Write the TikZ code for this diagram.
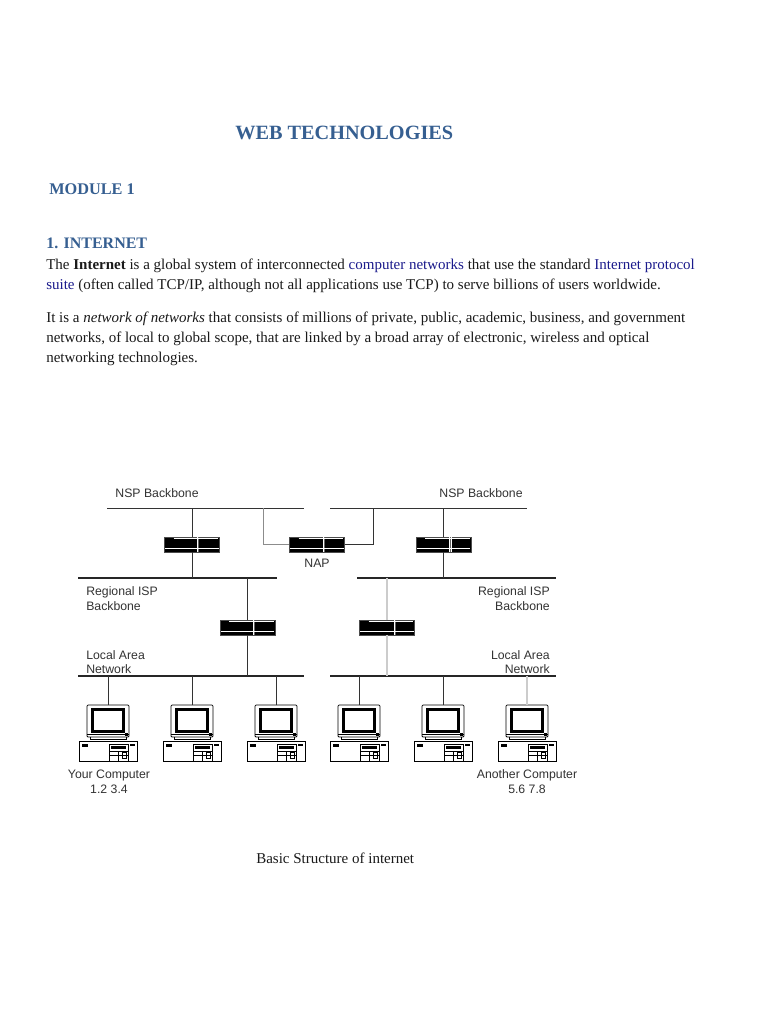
\documentclass[tikz,border=0pt]{standalone}
\usepackage{fontspec}
\setmainfont{Liberation Serif}
\newfontfamily\lblfont{Liberation Sans}
\definecolor{headblue}{HTML}{365F91}
\definecolor{linkblue}{HTML}{1A1A8C}
\definecolor{bodyink}{HTML}{1A1A1A}
\definecolor{lblink}{HTML}{333333}
\tikzset{
  bodytext/.style={inner sep=0pt,anchor=base west,text=bodyink,font=\fontsize{11.25}{13}\selectfont},
  headtext/.style={inner sep=0pt,anchor=base west,text=headblue,font=\fontsize{12.2}{15}\selectfont\bfseries},
  lbl/.style={inner sep=0pt,anchor=base,text=lblink,font=\lblfont\fontsize{9.2}{10}\selectfont},
  bus/.style={line width=1.1pt,black!85},
  wire/.style={line width=.7pt,black!80},
  greywire/.style={line width=.6pt,black!45},
  palewire/.style={line width=.8pt,black!20},
  switchbox/.style={draw=black!70,fill=black,line width=.5pt,minimum width=41.5pt,minimum height=11pt,inner sep=0pt,outer sep=0pt},
  pics/computer/.style={code={
    \coordinate (-top) at (0,0);
    \draw[line width=.6pt,fill=white,rounded corners=.8pt] (-21,0) rectangle (21,32);
    \draw[line width=2pt,black] (-15.5,4.5) rectangle (15.5,26.5);
    \draw[line width=.5pt] (-21,29.5) -- (21,29.5);
    \fill[black] (17,27.5) rectangle (20,31);
    \draw[line width=.6pt] (-18,32) -- (-18,34.5) -- (18,34.5) -- (18,32);
    \draw[line width=.6pt,fill=white] (-29,36) rectangle (29,56);
    \fill[black] (-26,38.5) rectangle (-20,41.5);
    \fill[black] (22,38.5) rectangle (27,41);
    \draw[line width=.5pt] (1,39) rectangle (20,56);
    \draw[line width=.5pt,fill=black] (3,41) rectangle (17,43);
    \draw[line width=.5pt] (1,46) -- (20,46) (1,50) -- (20,50) (10,46) -- (10,56) (14,47) rectangle (18,53);
  }}
}
\begin{document}
\begin{tikzpicture}[x=.75pt,y=-.75pt]
\useasboundingbox (0,0) rectangle (768,1024);
\fill[white] (0,0) rectangle (768,1024);
% texts
\node[headtext,font=\fontsize{15.2}{18}\selectfont\bfseries] (title) at (235,139) {WEB TECHNOLOGIES};
\node[headtext] (module) at (49,194) {MODULE 1};
\node[headtext,font=\fontsize{12}{15}\selectfont\bfseries] (inet) at (46,248) {1. INTERNET};
\node[bodytext] (p1) at (46,269) {The \textbf{Internet} is a global system of interconnected \textcolor{linkblue}{computer networks} that use the standard \textcolor{linkblue}{Internet protocol}};
\node[bodytext] (p2) at (46,289) {\textcolor{linkblue}{suite} (often called TCP/IP, although not all applications use TCP) to serve billions of users worldwide.};
\node[bodytext] (p3) at (46,322) {It is a \textit{network of networks} that consists of millions of private, public, academic, business, and government};
\node[bodytext] (p4) at (46,342) {networks, of local to global scope, that are linked by a broad array of electronic, wireless and optical};
\node[bodytext] (p5) at (46,362) {networking technologies.};
\node[bodytext] (cap) at (256,863) {Basic Structure of internet};
% bus end points
\coordinate (nspLa) at (107,508); \coordinate (nspLb) at (304,508);
\coordinate (nspRa) at (330,508); \coordinate (nspRb) at (527,508);
\coordinate (regLa) at (78,578);  \coordinate (regLb) at (277,578);
\coordinate (regRa) at (357,578); \coordinate (regRb) at (556,578);
\coordinate (lanLa) at (78,676);  \coordinate (lanLb) at (304,676);
\coordinate (lanRa) at (330,676); \coordinate (lanRb) at (556,676);
\draw[wire] (nspLa) -- (nspLb);
\draw[wire] (nspRa) -- (nspRb);
\draw[bus] (regLa) -- (regLb);
\draw[bus] (regRa) -- (regRb);
\draw[bus] (lanLa) -- (lanLb);
\draw[bus] (lanRa) -- (lanRb);
% switches
\node[switchbox] (swA) at (192,544.5) {};
\node[switchbox] (swN) at (317,544.5) {};
\node[switchbox] (swB) at (443.5,544.5) {};
\node[switchbox] (swC) at (247.5,627.5) {};
\node[switchbox] (swD) at (387,627.5) {};
\foreach \s/\d in {swA/6,swN/7,swB/7,swC/6.5,swD/8}{
  \draw[white,line width=1.6pt] ([xshift=\d*.75pt]\s.north) -- ([xshift=\d*.75pt]\s.south);
  \draw[black!60,line width=.5pt] ([xshift=\d*.75pt]\s.north) -- ([xshift=\d*.75pt]\s.south);
  \draw[white,line width=.9pt] ([xshift=.8pt,yshift=2.3pt]\s.south west) -- ([xshift=-.8pt,yshift=2.3pt]\s.south east);
  \draw[white,line width=.5pt] ([xshift=7pt,yshift=-1.1pt]\s.north west) -- ([xshift=-1pt,yshift=-1.1pt]\s.north east);
}
% connectors
\draw[wire] (swA.north) -- (swA.north |- nspLa);
\draw[wire] (swA.south) -- (swA.south |- regLa);
\draw[wire] (swB.north) -- (swB.north |- nspRa);
\draw[wire] (swB.south) -- (swB.south |- regRa);
\draw[wire] (swC.north) -- (swC.north |- regLa);
\draw[wire] (swC.south) -- (swC.south |- lanLa);
\draw[palewire] (swD.north) -- (swD.north |- regRa);
\draw[palewire] (swD.south) -- (swD.south |- lanRa);
\coordinate (napL) at (263,508);
\coordinate (napR) at (373,508);
\draw[greywire] (napL) |- (swN.west);
\draw[wire] (napR) |- (swN.east);
% computers
\pic (pcA) at (108,705) {computer};
\pic (pcB) at (192,705) {computer};
\pic (pcC) at (276,705) {computer};
\pic (pcD) at (359,705) {computer};
\pic (pcE) at (443,705) {computer};
\pic (pcF) at (527,705) {computer};
\draw[wire] (pcA-top) -- (pcA-top |- lanLa);
\draw[wire] (pcB-top) -- (pcB-top |- lanLa);
\draw[wire] (pcC-top) -- (pcC-top |- lanLa);
\draw[wire] (pcD-top) -- (pcD-top |- lanRa);
\draw[wire] (pcE-top) -- (pcE-top |- lanRa);
\draw[palewire] (pcF-top) -- (pcF-top |- lanRa);
% labels
\node[lbl] (l1) at (157,497) {NSP Backbone};
\node[lbl] (l2) at (481,497) {NSP Backbone};
\node[lbl] (l3) at (317,567) {NAP};
\node[lbl,anchor=base west] (l4) at (86,595) {Regional ISP};
\node[lbl,anchor=base west] (l5) at (86,610) {Backbone};
\node[lbl,anchor=base east] (l6) at (550,595) {Regional ISP};
\node[lbl,anchor=base east] (l7) at (550,610) {Backbone};
\node[lbl,anchor=base west] (l8) at (86,659) {Local Area};
\node[lbl,anchor=base west] (l9) at (86,673) {Network};
\node[lbl,anchor=base east] (l10) at (550,659) {Local Area};
\node[lbl,anchor=base east] (l11) at (550,673) {Network};
\node[lbl] (l12) at (109,778) {Your Computer};
\node[lbl] (l13) at (109,793) {1.2 3.4};
\node[lbl] (l14) at (527,778) {Another Computer};
\node[lbl] (l15) at (527,793) {5.6 7.8};
\end{tikzpicture}
\end{document}
